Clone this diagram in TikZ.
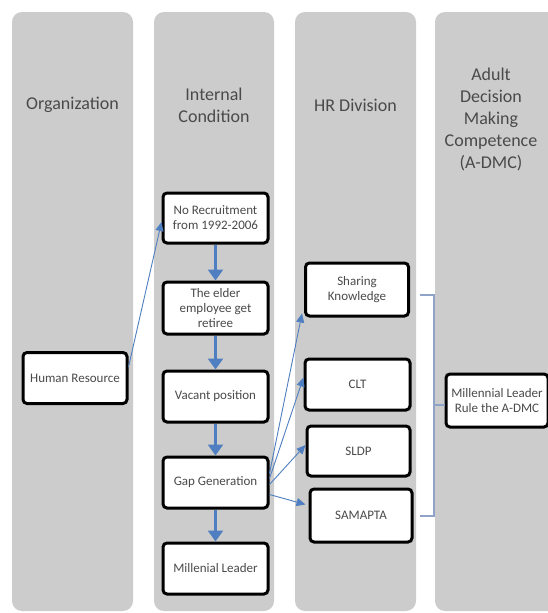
\documentclass[tikz,border=0pt]{standalone}
\usepackage{fontspec}
\setmainfont{Carlito}
\usetikzlibrary{arrows.meta,positioning}
\definecolor{colgray}{HTML}{CCCCCC}
\definecolor{txtgray}{HTML}{4A4A4A}
\definecolor{arrblue}{HTML}{4F7FC0}
\definecolor{brk}{HTML}{8FA3C8}
\tikzset{
  column/.style={fill=colgray, draw=none, rounded corners=10pt},
  header/.style={text=txtgray, font=\fontsize{18}{22}\selectfont, align=center},
  box/.style={draw=black, line width=3pt, fill=white, rounded corners=4pt,
    text=txtgray, font=\fontsize{13}{15}\selectfont, align=center, inner sep=1pt},
  varrow/.style={draw=arrblue, line width=2.4pt, -{Triangle[width=15pt,length=11pt]}},
  darrow/.style={draw=arrblue, line width=0.9pt, -{Triangle[width=8pt,length=9pt]}},
  bracket/.style={draw=brk, line width=1.3pt}
}
\begin{document}
\begin{tikzpicture}[x=1pt,y=-1pt]
\clip (0,0) rectangle (548,613);
\fill[white] (0,0) rectangle (548,613);
% columns
\path[column] (12,12) rectangle (133,611);
\path[column] (154,12) rectangle (274,611);
\path[column] (295,12) rectangle (416,611);
\path[column] (435,12) rectangle (565,611);
% headers
\node[header] (h1) at (72.5,105) {Organization};
\node[header] (h2) at (214,105) {Internal\\Condition};
\node[header] (h3) at (355.5,105) {HR Division};
\node[header] (h4) at (491,119) {Adult\\Decision\\Making\\Competence\\(A-DMC)};
% boxes
\node[box, minimum width=104pt, minimum height=51pt] (hr) at (75,378) {Human Resource};
\node[box, minimum width=105pt, minimum height=50pt] (norec) at (215.5,218) {No Recruitment\\from 1992-2006};
\node[box, minimum width=105pt, minimum height=52pt] (elder) at (215.5,308) {The elder\\employee get\\retiree};
\node[box, minimum width=105pt, minimum height=51pt] (vacant) at (215.5,396.5) {Vacant position};
\node[box, minimum width=105pt, minimum height=51pt] (gap) at (215.5,482.5) {Gap Generation};
\node[box, minimum width=105pt, minimum height=51pt] (mill) at (215.5,568.5) {Millenial Leader};
\node[box, minimum width=103pt, minimum height=53pt] (share) at (357,289.5) {Sharing\\Knowledge};
\node[box, minimum width=105pt, minimum height=51pt] (clt) at (357.5,384.5) {CLT};
\node[box, minimum width=103pt, minimum height=50pt] (sldp) at (358.5,451) {SLDP};
\node[box, minimum width=102pt, minimum height=53pt] (samapta) at (361,515.5) {SAMAPTA};
\node[box, minimum width=102pt, minimum height=53pt] (mlr) at (497,400.5) {Millennial Leader\\Rule the A-DMC};
% vertical arrows
\draw[varrow] (norec) -- (elder);
\draw[varrow] (elder) -- (vacant);
\draw[varrow] (vacant) -- (gap);
\draw[varrow] (gap) -- (mill);
% diagonal arrows
\draw[darrow] ([yshift=11pt]hr.east) -- ([yshift=-4pt]norec.west);
\draw[darrow] ([yshift=9pt]gap.east) -- ([xshift=-2pt,yshift=4pt]share.south west);
\draw[darrow] ([yshift=4pt]gap.east) -- ([yshift=7pt]clt.west);
\draw[darrow] ([yshift=-2pt]gap.east) -- ([yshift=6pt]sldp.west);
\draw[darrow] ([yshift=-12pt]gap.east) -- ([yshift=11pt,xshift=-3pt]samapta.west);
% bracket
\coordinate (b1) at (420,295);
\coordinate (b2) at (434,295);
\coordinate (b3) at (434,516);
\coordinate (b4) at (420,516);
\coordinate (b5) at (434,405);
\draw[bracket] (b1) -- (b2) -- (b3) -- (b4);
\draw[bracket] (b5) -- (b5 -| mlr.west);
\end{tikzpicture}
\end{document}
